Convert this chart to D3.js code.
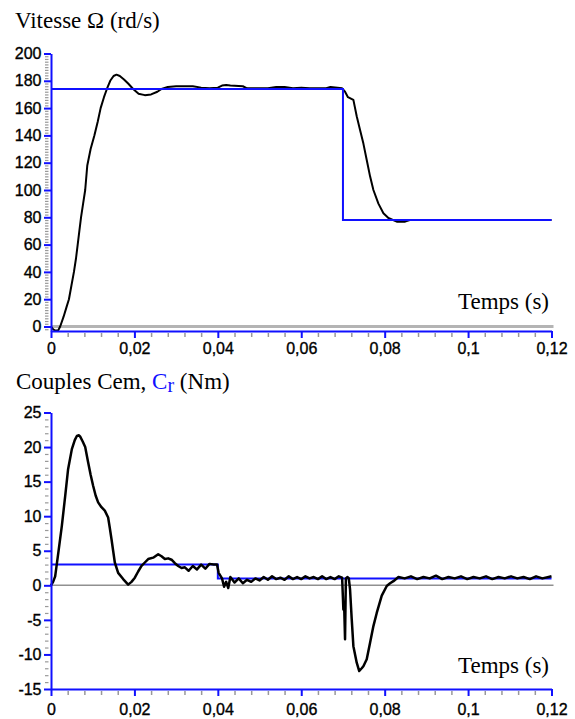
<!DOCTYPE html>
<html>
<head>
<meta charset="utf-8">
<script src="https://cdn.jsdelivr.net/npm/d3@7"></script>
<style>
	body { margin: 0; background: #fff; }
	text { font-family: Arial, "Liberation Sans", sans-serif; }
	.title { font-family: "Times New Roman", "Liberation Serif", serif; }
</style>
</head>
<body>
<script>
(function(){

	// vitesse mesuree (rd/s)
	var speedTime = [0, 0.0005, 0.001, 0.0017, 0.0022, 0.003, 0.0037, 0.0043, 0.0049, 0.0055,
		0.006, 0.0064, 0.0068, 0.0072, 0.0077, 0.0082, 0.0087, 0.0095, 0.0104, 0.0112,
		0.0119, 0.0127, 0.0134, 0.0142, 0.015, 0.0157, 0.0165, 0.0175, 0.0185, 0.0197,
		0.021, 0.0225, 0.024, 0.0255, 0.0265, 0.028, 0.03, 0.034, 0.036, 0.038,
		0.04, 0.041, 0.042, 0.043, 0.046, 0.047, 0.052, 0.054, 0.056, 0.058,
		0.06, 0.062, 0.066, 0.067, 0.0698, 0.0705, 0.0712, 0.0725, 0.0733, 0.0741,
		0.0749, 0.0757, 0.0765, 0.0773, 0.0785, 0.0797, 0.0809, 0.0829, 0.0849, 0.086, 0.12];
	var speedValue = [0, -2, -3, -3, 0, 7, 14, 20, 30, 40,
		50, 60, 70, 80, 90, 100, 118, 130, 140, 150,
		160, 168, 174, 180, 183.5, 184.5, 183.5, 181, 178, 174,
		170.5, 169.5, 170, 172, 174, 175.5, 176, 176, 175, 174.5,
		175, 176.5, 177, 176.5, 176, 174.5, 174.5, 175.5, 175.5, 174.5,
		175, 174.5, 174.5, 175.5, 174.5, 172, 168, 166, 154, 144,
		134, 122, 110, 100, 90, 83, 79.5, 76.8, 76.8, 78, 78];
	// vitesse de reference
	var speedRefTime = [0, 0.07, 0.07, 0.12];
	var speedRefValue = [174, 174, 78, 78];

	// couple electromagnetique Cem (Nm)
	var torqueTime = [0, 0.0005, 0.001, 0.00175, 0.0026, 0.0034, 0.0041, 0.005, 0.0057, 0.0062,
		0.0067, 0.007, 0.0076, 0.0082, 0.0089, 0.0095, 0.0101, 0.0107, 0.0113, 0.0121,
		0.0129, 0.0137, 0.0141, 0.0145, 0.0149, 0.0153, 0.0161, 0.0173, 0.0185, 0.0193,
		0.0201, 0.0209, 0.0217, 0.0225, 0.0233, 0.0245, 0.0257, 0.0265, 0.0273, 0.0281,
		0.0289, 0.0297, 0.0305, 0.0313, 0.0321, 0.033, 0.034, 0.035, 0.036, 0.037,
		0.038, 0.039, 0.0398, 0.0402, 0.041, 0.0415, 0.042, 0.0425, 0.043, 0.044,
		0.045, 0.046, 0.047, 0.048, 0.049, 0.05, 0.051, 0.052, 0.053, 0.054,
		0.055, 0.056, 0.057, 0.058, 0.059, 0.06, 0.061, 0.062, 0.063, 0.064,
		0.065, 0.066, 0.067, 0.068, 0.069, 0.0698, 0.0701, 0.0703, 0.0705, 0.0707,
		0.0711, 0.0714, 0.0717, 0.0721, 0.0725, 0.0733, 0.0739, 0.0745, 0.0749, 0.0757,
		0.0765, 0.0773, 0.0781, 0.0793, 0.0805, 0.0813, 0.0821, 0.0833, 0.0848, 0.0863,
		0.0878, 0.0893, 0.0908, 0.0923, 0.0938, 0.0953, 0.0968, 0.0983, 0.0998, 0.1013,
		0.1028, 0.1043, 0.1058, 0.1073, 0.1088, 0.1103, 0.1118, 0.1133, 0.1148, 0.1163,
		0.1178, 0.1193, 0.12];
	var torqueValue = [0, 0.5, 1.3, 4.7, 8.6, 12.9, 16.8, 19.7, 21, 21.6,
		21.7, 21.5, 20.8, 20, 17.8, 16, 14.4, 13, 12, 11.3,
		10.8, 9.8, 8.3, 6.7, 5, 3.3, 1.8, 0.9, 0.1, 0.5,
		1.1, 2, 2.8, 3.3, 3.8, 4, 4.5, 4.2, 3.8, 3.9,
		3.7, 3.2, 2.8, 2.5, 2.6, 2.1, 2.8, 2.3, 3, 2.4,
		3.1, 3, 3, 1.8, 1, -0.2, 0.5, -0.4, 1.2, 0.4,
		1, 0.3, 0.8, 0.5, 1, 0.7, 1.2, 0.8, 1.3, 0.9,
		1.1, 0.8, 1.3, 0.9, 1.2, 0.9, 1.3, 1, 1.2, 0.9,
		1.3, 0.9, 1.2, 0.9, 1.3, 1.1, -3.5, -3.2, -7.8, 1,
		1.2, 1, -0.6, -4.9, -8.8, -11.2, -12.4, -12, -11.7, -10.7,
		-8.3, -5.9, -4, -1.5, -0.1, 0.3, 0.6, 1.2, 1.0, 1.3,
		0.9, 1.2, 1.0, 1.4, 0.9, 1.2, 1.0, 1.3, 0.9, 1.2,
		1.0, 1.3, 0.9, 1.2, 1.0, 1.3, 1.0, 1.2, 0.9, 1.3,
		1.0, 1.2, 1.3];
	// couple resistant Cr
	var loadTime = [0, 0.04, 0.04, 0.12];
	var loadValue = [3, 3, 1, 1];

	var xTicks = [0, 0.02, 0.04, 0.06, 0.08, 0.1, 0.12];
	var xTickLabels = ["0", "0,02", "0,04", "0,06", "0,08", "0,1", "0,12"];
	var speedTicks = [0, 20, 40, 60, 80, 100, 120, 140, 160, 180, 200];
	var torqueTicks = [-15, -10, -5, 0, 5, 10, 15, 20, 25];

	const SVG_WIDTH = 575;
	const SVG_HEIGHT = 719;
	const X_LEFT = 51;
	const X_RIGHT = 551.5;
	const BLUE = "#1010ff";

	var svg = d3.select("body").append("svg")
		.attr("width", SVG_WIDTH)
		.attr("height", SVG_HEIGHT);

	var x = d3.scaleLinear().domain([0, 0.12]).range([X_LEFT, X_RIGHT]);

	function zip(ts, vs){ return ts.map(function(t, i){ return [t, vs[i]]; }); }

	function drawPanel(opt){
		var y = d3.scaleLinear().domain(opt.yDomain).range([opt.bottom, opt.top]);
		var g = svg.append("g");

		// ligne du zero
		g.append("line")
			.attr("x1", X_LEFT).attr("x2", 553.5)
			.attr("y1", y(0)).attr("y2", y(0))
			.attr("stroke", opt.zeroColor).attr("stroke-width", opt.zeroWidth);

		// graduations secondaires
		g.append("g").attr("transform", "translate(" + (X_LEFT - 2.5) + ",0)")
			.call(d3.axisLeft(y).tickValues(opt.yMinor).tickSize(3.5).tickFormat(""))
			.call(function(a){ a.select(".domain").remove(); a.selectAll("line").attr("stroke", "#999").attr("stroke-width", 1.2); });
		g.append("g").attr("transform", "translate(0," + (opt.bottom + 2) + ")")
			.call(d3.axisBottom(x).tickValues(d3.range(0.004, 0.12, 0.004).filter(function(v){ return Math.abs(v / 0.02 - Math.round(v / 0.02)) > 0.01; })).tickSize(4).tickFormat(""))
			.call(function(a){ a.select(".domain").remove(); a.selectAll("line").attr("stroke", "#999").attr("stroke-width", 1.5); });

		var lineGen = d3.line().x(function(d){ return x(d[0]); }).y(function(d){ return y(d[1]); });

		var black = function(){
			g.append("path").datum(zip(opt.curveT, opt.curveV))
				.attr("d", lineGen).attr("fill", "none")
				.attr("stroke", "#000").attr("stroke-width", opt.curveWidth).attr("stroke-linejoin", "round");
		};
		var blue = function(){
			g.append("path").datum(zip(opt.refT, opt.refV))
				.attr("d", lineGen).attr("fill", "none")
				.attr("stroke", BLUE).attr("stroke-width", 2);
		};
		if (opt.blackOnTop) { blue(); black(); } else { black(); blue(); }

		// axes
		var yAxis = g.append("g").attr("transform", "translate(" + X_LEFT + ",0)")
			.call(d3.axisLeft(y).tickValues(opt.yTicks).tickSize(7).tickSizeOuter(0).tickPadding(2.5)
				.tickFormat(function(d){ return String(d); }));
		var xAxis = g.append("g").attr("transform", "translate(0," + opt.bottom + ")")
			.call(d3.axisBottom(x).tickValues(xTicks).tickSize(7).tickSizeOuter(0).tickPadding(opt.xPad)
				.tickFormat(function(d, i){ return xTickLabels[i]; }));
		[yAxis, xAxis].forEach(function(a){
			a.select(".domain").attr("stroke", BLUE).attr("stroke-width", 2);
			a.selectAll(".tick line").attr("stroke", BLUE).attr("stroke-width", 2);
			a.selectAll(".tick text").attr("fill", "#000").style("font-size", "16px")
				.style("font-family", "Arial, 'Liberation Sans', sans-serif")
				.attr("stroke", "#000").attr("stroke-width", 0.35);
		});

		// titre
		var title = svg.append("text").attr("class", "title")
			.attr("x", opt.titleX).attr("y", opt.titleY)
			.style("font-size", "23px").attr("fill", "#000");
		opt.title(title);

		svg.append("text").attr("class", "title")
			.attr("x", 549).attr("y", opt.tempsY)
			.attr("text-anchor", "end")
			.style("font-size", "23px")
			.text("Temps (s)");
	}

	drawPanel({
		yDomain: [-3.3, 200], top: 53.5, bottom: 331,
		yTicks: speedTicks, yMinor: d3.range(-2, 200, 2).filter(function(v){ return v % 20 !== 0; }),
		curveT: speedTime, curveV: speedValue, refT: speedRefTime, refV: speedRefValue,
		curveWidth: 2, blackOnTop: false, zeroColor: "#b4b4b4", zeroWidth: 3, xPad: 5,
		titleX: 15, titleY: 27.5, tempsY: 309,
		title: function(t){ t.text("Vitesse \u03A9 (rd/s)"); }
	});

	drawPanel({
		yDomain: [-15, 25], top: 412.5, bottom: 689,
		yTicks: torqueTicks, yMinor: d3.range(-14, 25, 1).filter(function(v){ return v % 5 !== 0; }),
		curveT: torqueTime, curveV: torqueValue, refT: loadTime, refV: loadValue,
		curveWidth: 2.5, blackOnTop: true, zeroColor: "#909090", zeroWidth: 1.5, xPad: 8,
		titleX: 16, titleY: 388.5, tempsY: 673,
		title: function(t){
			t.append("tspan").text("Couples Cem, ");
			t.append("tspan").attr("fill", BLUE).text("C");
			t.append("tspan").attr("fill", BLUE).attr("dy", 3).style("font-size", "20px").text("r");
			t.append("tspan").attr("dy", -3).text(" (Nm)");
		}
	});

})();
</script>
</body>
</html>
